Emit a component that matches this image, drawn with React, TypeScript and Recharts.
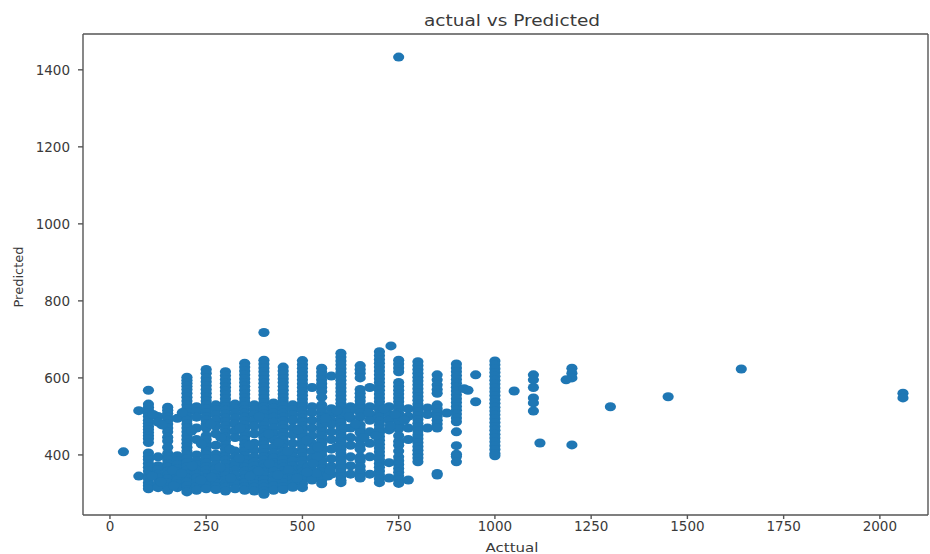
import React from "react";
import { ScatterChart, Scatter, XAxis, YAxis, ReferenceLine } from "recharts";

const xTicks = [0, 250, 500, 750, 1000, 1250, 1500, 1750, 2000];
const yTicks = [400, 600, 800, 1000, 1200, 1400];

const c100 = [568, 532, 524, 516, 508, 500, 490, 482, 474, 466, 458, 450, 442, 432, 405, 396, 388, 378, 368, 358, 348, 338, 328, 320, 312];
const c150 = [524, 516, 508, 498, 490, 480, 470, 460, 446, 436, 420, 404, 396, 388, 378, 368, 358, 348, 338, 328, 318, 308];
const c200 = [602, 594, 586, 578, 570, 560, 550, 540, 530, 520, 510, 500, 490, 480, 470, 460, 450, 440, 430, 420, 410, 400, 390, 380, 370, 360, 350, 340, 330, 320, 310, 304];
const c250 = [622, 612, 600, 590, 580, 570, 560, 550, 540, 530, 520, 510, 500, 490, 480, 470, 450, 440, 430, 420, 410, 400, 390, 380, 370, 360, 350, 340, 330, 320, 312];
const c300 = [616, 606, 596, 586, 576, 566, 556, 546, 536, 526, 516, 506, 496, 486, 476, 466, 456, 446, 436, 426, 416, 406, 396, 386, 376, 366, 356, 346, 336, 326, 316, 306];
const c350 = [638, 628, 618, 608, 598, 588, 578, 568, 558, 548, 538, 528, 518, 508, 498, 488, 478, 468, 458, 448, 438, 428, 418, 408, 398, 388, 378, 368, 358, 348, 338, 328, 318, 308];
const c400 = [718, 646, 636, 626, 616, 606, 596, 586, 576, 566, 556, 546, 536, 526, 516, 506, 496, 486, 476, 466, 456, 446, 436, 426, 416, 406, 396, 386, 376, 366, 356, 346, 336, 326, 316, 306, 298];
const c450 = [628, 618, 608, 598, 588, 578, 568, 558, 548, 538, 528, 518, 508, 498, 488, 478, 468, 458, 448, 438, 428, 418, 408, 398, 388, 378, 368, 358, 348, 338, 328, 318, 310];
const c500 = [645, 635, 625, 615, 605, 595, 585, 575, 565, 555, 545, 535, 525, 515, 505, 495, 485, 475, 465, 455, 445, 435, 425, 415, 405, 395, 385, 375, 365, 355, 345, 335, 325, 315];
const c550 = [625, 615, 605, 595, 585, 575, 565, 550, 530, 520, 510, 500, 490, 480, 470, 460, 450, 440, 430, 420, 410, 400, 385, 375, 365, 355, 345, 335, 325];
const c600 = [664, 654, 644, 634, 624, 614, 604, 594, 584, 574, 564, 554, 544, 534, 524, 514, 504, 494, 484, 474, 464, 454, 444, 434, 424, 414, 404, 394, 384, 374, 364, 354, 344, 334, 328];
const c650 = [632, 622, 612, 600, 570, 560, 550, 540, 530, 520, 510, 498, 478, 468, 458, 440, 425, 415, 395, 385, 370, 360, 350, 340];
const c700 = [668, 658, 648, 638, 628, 618, 608, 598, 588, 578, 568, 558, 548, 538, 528, 518, 508, 498, 488, 478, 468, 458, 448, 438, 428, 418, 408, 398, 388, 378, 368, 358, 348, 338, 328];
const c750 = [646, 636, 626, 616, 588, 578, 568, 558, 548, 538, 528, 518, 508, 498, 488, 478, 468, 450, 435, 425, 410, 395, 385, 375, 365, 355, 345, 335, 326];
const c800 = [642, 632, 622, 612, 602, 592, 582, 572, 562, 552, 542, 532, 522, 512, 502, 492, 482, 472, 462, 452, 442, 432, 422, 412, 402, 392, 382];
const c850 = [608, 595, 582, 570, 560, 530, 520, 510, 500, 490, 480, 470, 352, 348];
const c900 = [636, 626, 616, 606, 596, 586, 576, 566, 556, 546, 536, 526, 516, 506, 496, 486, 460, 424, 402, 396, 382];
const c1000 = [644, 634, 624, 614, 604, 594, 584, 574, 564, 554, 544, 534, 524, 514, 504, 494, 484, 474, 464, 454, 444, 434, 424, 414, 404, 398];
const c1100 = [608, 595, 575, 548, 535, 514];
const c1200 = [625, 612, 600, 426];

const fill75 = [515, 345];
const fill125 = [500, 485, 395, 372, 362, 350, 340, 325, 315];
const fill175 = [495, 398, 385, 375, 365, 355, 345, 335, 325, 315];
const fill225 = [525, 512, 498, 470, 440, 400, 385, 375, 362, 350, 340, 328, 318, 308];
const fill275 = [530, 518, 505, 490, 475, 455, 425, 402, 390, 375, 365, 352, 340, 328, 318, 310];
const fill325 = [532, 520, 508, 495, 480, 462, 445, 410, 395, 382, 372, 360, 348, 336, 325, 312];
const fill375 = [530, 518, 505, 490, 475, 455, 430, 412, 395, 382, 372, 360, 350, 338, 326, 316, 306];
const fill425 = [535, 522, 510, 498, 485, 470, 455, 440, 420, 405, 392, 380, 370, 358, 345, 332, 320, 308];
const fill475 = [530, 518, 505, 490, 470, 452, 430, 410, 395, 385, 372, 360, 350, 338, 326, 316];
const fill525 = [575, 525, 510, 490, 470, 450, 430, 410, 392, 375, 360, 345, 335];
const fill575 = [605, 520, 505, 490, 480, 460, 440, 415, 390, 370, 350];
const fill625 = [525, 515, 495, 470, 445, 425, 395, 372, 350];
const fill675 = [575, 525, 505, 490, 460, 430, 395, 350];
const fill725 = [525, 505, 490, 465, 380, 340];
const fill775 = [520, 500, 470, 440, 335];
const fill825 = [522, 505, 470];
const fill875 = [509];
const offA = [112, 135, 163, 188, 212, 238, 262, 288, 312, 338, 362, 388, 412, 438, 462, 488, 512, 538, 562, 588];
const offB = [505, 478, 360, 510, 462, 428, 480, 445, 415, 470, 425, 500, 455, 432, 410, 465, 438, 395, 485, 420];
const offC = [110, 132, 166, 186, 214, 236, 264, 286, 314, 336, 364, 386, 414, 436, 464, 486, 514, 536, 566, 612];
const offD = [345, 330, 320, 352, 372, 335, 342, 368, 340, 392, 345, 358, 378, 348, 362, 340, 368, 352, 345, 510];
const midX = [512, 528, 540, 560, 572, 590, 610, 622, 638, 660, 672, 690, 712, 728, 740, 765];
const midY = [355, 378, 420, 495, 360, 515, 470, 500, 480, 445, 510, 450, 520, 475, 505, 490];
const singlesX = [35, 730, 750, 920, 930, 950, 950, 1050, 1117, 1185, 1300, 1450, 1640, 2060, 2060];
const singlesY = [408, 683, 1433, 572, 568, 608, 538, 566, 431, 595, 525, 551, 623, 560, 548];

const columns: [number, number[]][] = [
  [75, fill75], [100, c100], [125, fill125], [150, c150], [175, fill175], [200, c200],
  [225, fill225], [250, c250], [275, fill275], [300, c300], [325, fill325], [350, c350],
  [375, fill375], [400, c400], [425, fill425], [450, c450], [475, fill475], [500, c500],
  [525, fill525], [550, c550], [575, fill575], [600, c600], [625, fill625], [650, c650],
  [675, fill675], [700, c700], [725, fill725], [750, c750], [775, fill775], [800, c800],
  [825, fill825], [850, c850], [875, fill875], [900, c900], [1000, c1000], [1100, c1100], [1200, c1200],
];

const data = [
  ...columns.flatMap(([x, ys]) => ys.map((y) => ({ x, y }))),
  ...offA.map((x, i) => ({ x, y: offB[i] })),
  ...offC.map((x, i) => ({ x, y: offD[i] })),
  ...midX.map((x, i) => ({ x, y: midY[i] })),
  ...singlesX.map((x, i) => ({ x, y: singlesY[i] })),
];

const INK = "#3a3a3a";
const FRAME = "#555555";
const FONT = "'DejaVu Sans', sans-serif";

const Dot = (p: any) => <ellipse cx={p.cx} cy={p.cy} rx={5.6} ry={4.5} fill="#1f77b4" />;

export default function App() {
  return (
    <div style={{ position: "absolute", left: 0, top: 0, width: 930, height: 554, background: "#fff" }}>
      <ScatterChart width={930} height={554} margin={{ top: 34, right: 2, bottom: 0, left: 0 }}>
        <XAxis
          type="number"
          dataKey="x"
          domain={[-70, 2125]}
          ticks={xTicks}
          height={39}
          interval={0}
          allowDataOverflow
          stroke={FRAME}
          strokeWidth={1.4}
          tickSize={4}
          tickMargin={2}
          tick={{ fontSize: 13.5, fill: INK, fontFamily: FONT }}
        />
        <YAxis
          type="number"
          dataKey="y"
          domain={[244, 1493]}
          ticks={yTicks}
          width={83}
          interval={0}
          allowDataOverflow
          stroke={FRAME}
          strokeWidth={1.4}
          tickSize={5}
          tickMargin={8}
          tick={{ fontSize: 13.5, fill: INK, fontFamily: FONT }}
        />
        <ReferenceLine y={1493} stroke={FRAME} strokeWidth={1.4} />
        <ReferenceLine x={2125} stroke={FRAME} strokeWidth={1.4} />
        <Scatter data={data} shape={Dot} isAnimationActive={false} />
        <text x={512} y={26} textAnchor="middle" fontSize={16} textLength={176} lengthAdjust="spacingAndGlyphs" fill={INK} fontFamily={FONT}>actual vs Predicted</text>
        <text x={512} y={552} textAnchor="middle" fontSize={13} textLength={53} lengthAdjust="spacingAndGlyphs" fill={INK} fontFamily={FONT}>Acttual</text>
        <text x={277} y={0} transform="translate(23 554) rotate(-90)" textAnchor="middle" fontSize={12.5} textLength={61} lengthAdjust="spacingAndGlyphs" fill={INK} fontFamily={FONT}>Predicted</text>
      </ScatterChart>
    </div>
  );
}
